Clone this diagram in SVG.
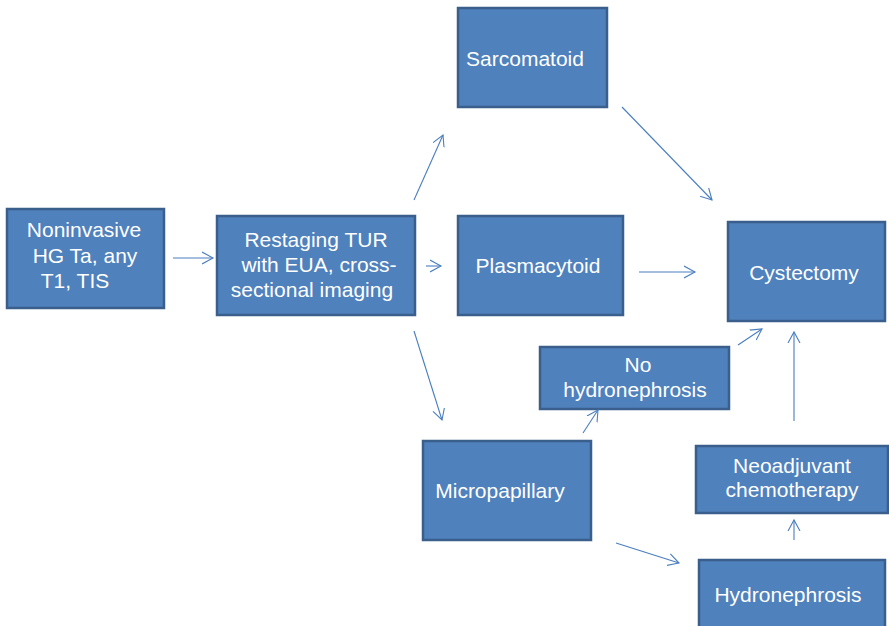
<svg xmlns="http://www.w3.org/2000/svg" width="889" height="626" viewBox="0 0 889 626">
<style>
.box{fill:#4F81BD;stroke:#3A5F8C;stroke-width:2.5}
.t{fill:#fff;font-family:"Liberation Sans",Arial,sans-serif;font-size:21px;text-anchor:middle}
.c{fill:none;stroke:#4A7EC0;stroke-width:1.1}
</style>
<defs>
<marker id="ah" markerUnits="userSpaceOnUse" markerWidth="14" markerHeight="14" refX="11" refY="6" orient="auto" viewBox="0 0 14 12">
<path d="M0,0 L11,6 L0,12" fill="none" stroke="#4A7EC0" stroke-width="1.1"/>
</marker>
</defs>
<g id="n1"><rect class="box" x="7" y="209" width="157" height="99"/>
<text class="t"><tspan x="84" y="237">Noninvasive</tspan><tspan x="85" y="263">HG Ta, any</tspan><tspan x="75" y="288">T1, TIS</tspan></text></g>
<g id="n2"><rect class="box" x="217" y="216" width="198" height="99"/>
<text class="t"><tspan x="316" y="247">Restaging TUR</tspan><tspan x="319" y="272">with EUA, cross-</tspan><tspan x="312" y="297">sectional imaging</tspan></text></g>
<g id="n3"><rect class="box" x="458" y="8" width="149" height="99"/>
<text class="t" x="525" y="66">Sarcomatoid</text></g>
<g id="n4"><rect class="box" x="458" y="216" width="165" height="99"/>
<text class="t" x="538" y="273">Plasmacytoid</text></g>
<g id="n5"><rect class="box" x="728" y="222" width="157" height="99"/>
<text class="t" x="804" y="280">Cystectomy</text></g>
<g id="n6"><rect class="box" x="540" y="347" width="189" height="62"/>
<text class="t"><tspan x="638" y="372">No</tspan><tspan x="635" y="397">hydronephrosis</tspan></text></g>
<g id="n7"><rect class="box" x="423" y="441" width="168" height="99"/>
<text class="t" x="500" y="498">Micropapillary</text></g>
<g id="n8"><rect class="box" x="696" y="446" width="192" height="67"/>
<text class="t"><tspan x="792" y="473">Neoadjuvant</tspan><tspan x="792" y="497">chemotherapy</tspan></text></g>
<g id="n9"><rect class="box" x="699" y="560" width="186" height="70"/>
<text class="t" x="788" y="602">Hydronephrosis</text></g>
<g id="connectors">
<line class="c" x1="173" y1="258" x2="213" y2="258" marker-end="url(#ah)"/>
<line class="c" x1="426" y1="266" x2="441" y2="266" marker-end="url(#ah)"/>
<line class="c" x1="414" y1="200" x2="443" y2="135" marker-end="url(#ah)"/>
<line class="c" x1="622" y1="107" x2="712" y2="200" marker-end="url(#ah)"/>
<line class="c" x1="639" y1="272" x2="695" y2="272" marker-end="url(#ah)"/>
<line class="c" x1="414" y1="331" x2="442" y2="420" marker-end="url(#ah)"/>
<line class="c" x1="583" y1="433" x2="598" y2="410" marker-end="url(#ah)"/>
<line class="c" x1="738" y1="345" x2="762" y2="329" marker-end="url(#ah)"/>
<line class="c" x1="794" y1="421" x2="794" y2="332" marker-end="url(#ah)"/>
<line class="c" x1="794" y1="540" x2="794" y2="520" marker-end="url(#ah)"/>
<line class="c" x1="616" y1="543" x2="679" y2="563" marker-end="url(#ah)"/>
</g>
</svg>
